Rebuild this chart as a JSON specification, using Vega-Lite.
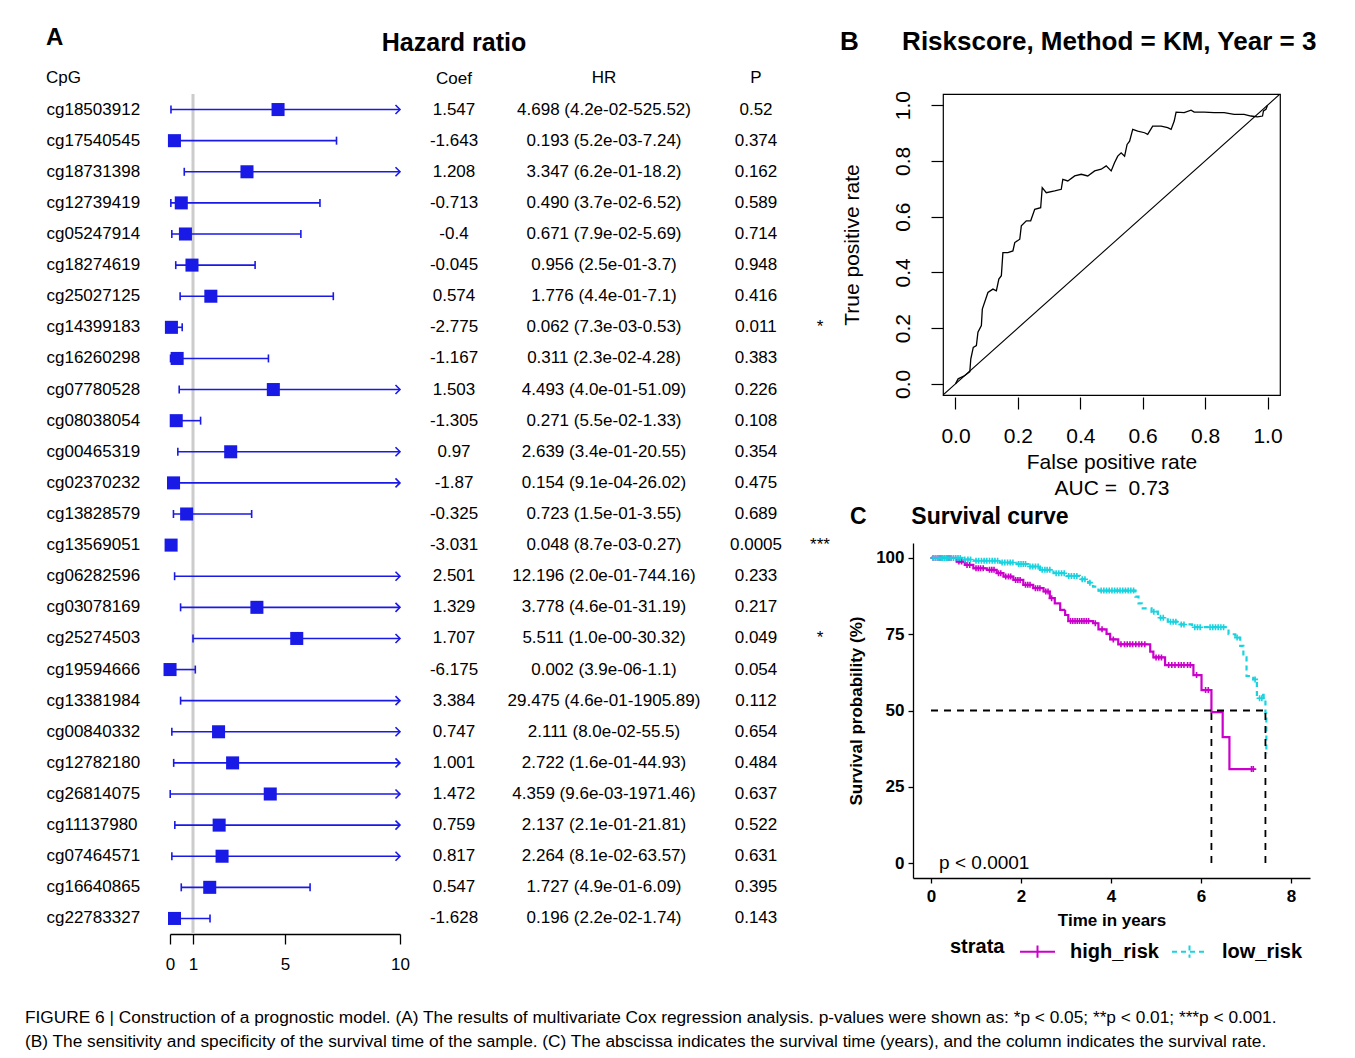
{
  "$schema": "https://vega.github.io/schema/vega-lite/v6.json",
  "background": "white",
  "padding": {"left": 25, "top": 25, "right": 0, "bottom": 0},
  "autosize": {"type": "pad"},
  "bounds": "flush",
  "spacing": 743,
  "title": {
    "text": ["FIGURE 6 | Construction of a prognostic model. (A) The results of multivariate Cox regression analysis. p-values were shown as: *p < 0.05; **p < 0.01; ***p < 0.001.", "(B) The sensitivity and specificity of the survival time of the sample. (C) The abscissa indicates the survival time (years), and the column indicates the survival rate."],
    "orient": "bottom", "anchor": "start", "frame": "bounds", "fontSize": 17.3, "fontWeight": "normal", "lineHeight": 24, "offset": 37, "dx": -21
  },
  "config": {
    "font": "Liberation Sans",
    "view": {"stroke": null},
    "axis": {"labelColor": "black", "titleColor": "black", "domainColor": "black", "tickColor": "black", "grid": false, "labelFont": "Liberation Sans", "titleFont": "Liberation Sans"},
    "title": {"color": "black", "subtitleColor": "black", "font": "Liberation Sans", "subtitleFont": "Liberation Sans"},
    "legend": {"labelColor": "black", "titleColor": "black", "labelFont": "Liberation Sans", "titleFont": "Liberation Sans"}
  },
  "datasets": {
    "forest": [
      {"cpg": "cg18503912", "coef": "1.547", "hr": 4.698, "lo": 0.042, "hi": 525.52, "hrtext": "4.698 (4.2e-02-525.52)", "p": "0.52", "sig": ""},
      {"cpg": "cg17540545", "coef": "-1.643", "hr": 0.193, "lo": 0.0052, "hi": 7.24, "hrtext": "0.193 (5.2e-03-7.24)", "p": "0.374", "sig": ""},
      {"cpg": "cg18731398", "coef": "1.208", "hr": 3.347, "lo": 0.62, "hi": 18.2, "hrtext": "3.347 (6.2e-01-18.2)", "p": "0.162", "sig": ""},
      {"cpg": "cg12739419", "coef": "-0.713", "hr": 0.49, "lo": 0.037, "hi": 6.52, "hrtext": "0.490 (3.7e-02-6.52)", "p": "0.589", "sig": ""},
      {"cpg": "cg05247914", "coef": "-0.4", "hr": 0.671, "lo": 0.079, "hi": 5.69, "hrtext": "0.671 (7.9e-02-5.69)", "p": "0.714", "sig": ""},
      {"cpg": "cg18274619", "coef": "-0.045", "hr": 0.956, "lo": 0.25, "hi": 3.7, "hrtext": "0.956 (2.5e-01-3.7)", "p": "0.948", "sig": ""},
      {"cpg": "cg25027125", "coef": "0.574", "hr": 1.776, "lo": 0.44, "hi": 7.1, "hrtext": "1.776 (4.4e-01-7.1)", "p": "0.416", "sig": ""},
      {"cpg": "cg14399183", "coef": "-2.775", "hr": 0.062, "lo": 0.0073, "hi": 0.53, "hrtext": "0.062 (7.3e-03-0.53)", "p": "0.011", "sig": "*"},
      {"cpg": "cg16260298", "coef": "-1.167", "hr": 0.311, "lo": 0.023, "hi": 4.28, "hrtext": "0.311 (2.3e-02-4.28)", "p": "0.383", "sig": ""},
      {"cpg": "cg07780528", "coef": "1.503", "hr": 4.493, "lo": 0.4, "hi": 51.09, "hrtext": "4.493 (4.0e-01-51.09)", "p": "0.226", "sig": ""},
      {"cpg": "cg08038054", "coef": "-1.305", "hr": 0.271, "lo": 0.055, "hi": 1.33, "hrtext": "0.271 (5.5e-02-1.33)", "p": "0.108", "sig": ""},
      {"cpg": "cg00465319", "coef": "0.97", "hr": 2.639, "lo": 0.34, "hi": 20.55, "hrtext": "2.639 (3.4e-01-20.55)", "p": "0.354", "sig": ""},
      {"cpg": "cg02370232", "coef": "-1.87", "hr": 0.154, "lo": 0.00091, "hi": 26.02, "hrtext": "0.154 (9.1e-04-26.02)", "p": "0.475", "sig": ""},
      {"cpg": "cg13828579", "coef": "-0.325", "hr": 0.723, "lo": 0.15, "hi": 3.55, "hrtext": "0.723 (1.5e-01-3.55)", "p": "0.689", "sig": ""},
      {"cpg": "cg13569051", "coef": "-3.031", "hr": 0.048, "lo": 0.0087, "hi": 0.27, "hrtext": "0.048 (8.7e-03-0.27)", "p": "0.0005", "sig": "***"},
      {"cpg": "cg06282596", "coef": "2.501", "hr": 12.196, "lo": 0.2, "hi": 744.16, "hrtext": "12.196 (2.0e-01-744.16)", "p": "0.233", "sig": ""},
      {"cpg": "cg03078169", "coef": "1.329", "hr": 3.778, "lo": 0.46, "hi": 31.19, "hrtext": "3.778 (4.6e-01-31.19)", "p": "0.217", "sig": ""},
      {"cpg": "cg25274503", "coef": "1.707", "hr": 5.511, "lo": 1.0, "hi": 30.32, "hrtext": "5.511 (1.0e-00-30.32)", "p": "0.049", "sig": "*"},
      {"cpg": "cg19594666", "coef": "-6.175", "hr": 0.002, "lo": 0.0000039, "hi": 1.1, "hrtext": "0.002 (3.9e-06-1.1)", "p": "0.054", "sig": ""},
      {"cpg": "cg13381984", "coef": "3.384", "hr": 29.475, "lo": 0.46, "hi": 1905.89, "hrtext": "29.475 (4.6e-01-1905.89)", "p": "0.112", "sig": ""},
      {"cpg": "cg00840332", "coef": "0.747", "hr": 2.111, "lo": 0.08, "hi": 55.5, "hrtext": "2.111 (8.0e-02-55.5)", "p": "0.654", "sig": ""},
      {"cpg": "cg12782180", "coef": "1.001", "hr": 2.722, "lo": 0.16, "hi": 44.93, "hrtext": "2.722 (1.6e-01-44.93)", "p": "0.484", "sig": ""},
      {"cpg": "cg26814075", "coef": "1.472", "hr": 4.359, "lo": 0.0096, "hi": 1971.46, "hrtext": "4.359 (9.6e-03-1971.46)", "p": "0.637", "sig": ""},
      {"cpg": "cg11137980", "coef": "0.759", "hr": 2.137, "lo": 0.21, "hi": 21.81, "hrtext": "2.137 (2.1e-01-21.81)", "p": "0.522", "sig": ""},
      {"cpg": "cg07464571", "coef": "0.817", "hr": 2.264, "lo": 0.081, "hi": 63.57, "hrtext": "2.264 (8.1e-02-63.57)", "p": "0.631", "sig": ""},
      {"cpg": "cg16640865", "coef": "0.547", "hr": 1.727, "lo": 0.49, "hi": 6.09, "hrtext": "1.727 (4.9e-01-6.09)", "p": "0.395", "sig": ""},
      {"cpg": "cg22783327", "coef": "-1.628", "hr": 0.196, "lo": 0.022, "hi": 1.74, "hrtext": "0.196 (2.2e-02-1.74)", "p": "0.143", "sig": ""}
    ],
    "roc": [
      {"i": 0, "fpr": 0, "tpr": 0}, {"i": 1, "fpr": 0.0085, "tpr": 0.018}, {"i": 2, "fpr": 0.03, "tpr": 0.03}, {"i": 3, "fpr": 0.046, "tpr": 0.044},
      {"i": 4, "fpr": 0.049, "tpr": 0.089}, {"i": 5, "fpr": 0.057, "tpr": 0.131}, {"i": 6, "fpr": 0.067, "tpr": 0.137}, {"i": 7, "fpr": 0.072, "tpr": 0.185},
      {"i": 8, "fpr": 0.083, "tpr": 0.209}, {"i": 9, "fpr": 0.086, "tpr": 0.268}, {"i": 10, "fpr": 0.104, "tpr": 0.328}, {"i": 11, "fpr": 0.12, "tpr": 0.34},
      {"i": 12, "fpr": 0.131, "tpr": 0.334}, {"i": 13, "fpr": 0.139, "tpr": 0.376}, {"i": 14, "fpr": 0.147, "tpr": 0.388}, {"i": 15, "fpr": 0.152, "tpr": 0.471},
      {"i": 16, "fpr": 0.168, "tpr": 0.471}, {"i": 17, "fpr": 0.184, "tpr": 0.477}, {"i": 18, "fpr": 0.19, "tpr": 0.507}, {"i": 19, "fpr": 0.206, "tpr": 0.519},
      {"i": 20, "fpr": 0.211, "tpr": 0.567}, {"i": 21, "fpr": 0.227, "tpr": 0.585}, {"i": 22, "fpr": 0.241, "tpr": 0.585}, {"i": 23, "fpr": 0.254, "tpr": 0.626},
      {"i": 24, "fpr": 0.273, "tpr": 0.632}, {"i": 25, "fpr": 0.278, "tpr": 0.704}, {"i": 26, "fpr": 0.291, "tpr": 0.686}, {"i": 27, "fpr": 0.318, "tpr": 0.692},
      {"i": 28, "fpr": 0.339, "tpr": 0.698}, {"i": 29, "fpr": 0.344, "tpr": 0.734}, {"i": 30, "fpr": 0.36, "tpr": 0.728}, {"i": 31, "fpr": 0.382, "tpr": 0.746},
      {"i": 32, "fpr": 0.403, "tpr": 0.752}, {"i": 33, "fpr": 0.424, "tpr": 0.746}, {"i": 34, "fpr": 0.446, "tpr": 0.764}, {"i": 35, "fpr": 0.467, "tpr": 0.77},
      {"i": 36, "fpr": 0.483, "tpr": 0.782}, {"i": 37, "fpr": 0.499, "tpr": 0.764}, {"i": 38, "fpr": 0.51, "tpr": 0.794}, {"i": 39, "fpr": 0.52, "tpr": 0.817},
      {"i": 40, "fpr": 0.531, "tpr": 0.829}, {"i": 41, "fpr": 0.542, "tpr": 0.817}, {"i": 42, "fpr": 0.55, "tpr": 0.859}, {"i": 43, "fpr": 0.558, "tpr": 0.871},
      {"i": 44, "fpr": 0.568, "tpr": 0.913}, {"i": 45, "fpr": 0.584, "tpr": 0.907}, {"i": 46, "fpr": 0.606, "tpr": 0.901}, {"i": 47, "fpr": 0.616, "tpr": 0.895},
      {"i": 48, "fpr": 0.632, "tpr": 0.925}, {"i": 49, "fpr": 0.659, "tpr": 0.925}, {"i": 50, "fpr": 0.68, "tpr": 0.919}, {"i": 51, "fpr": 0.691, "tpr": 0.913},
      {"i": 52, "fpr": 0.701, "tpr": 0.943}, {"i": 53, "fpr": 0.707, "tpr": 0.975}, {"i": 54, "fpr": 0.733, "tpr": 0.973}, {"i": 55, "fpr": 0.755, "tpr": 0.982},
      {"i": 56, "fpr": 0.765, "tpr": 0.975}, {"i": 57, "fpr": 0.797, "tpr": 0.975}, {"i": 58, "fpr": 0.829, "tpr": 0.973}, {"i": 59, "fpr": 0.861, "tpr": 0.973},
      {"i": 60, "fpr": 0.893, "tpr": 0.967}, {"i": 61, "fpr": 0.925, "tpr": 0.967}, {"i": 62, "fpr": 0.947, "tpr": 0.961}, {"i": 63, "fpr": 0.968, "tpr": 0.958},
      {"i": 64, "fpr": 0.984, "tpr": 0.961}, {"i": 65, "fpr": 0.987, "tpr": 0.979}, {"i": 66, "fpr": 0.995, "tpr": 0.985}, {"i": 67, "fpr": 1, "tpr": 1}
    ],
    "surv": [
      {"strata": "high_risk", "t": 0, "s": 100}, {"strata": "high_risk", "t": 0.57, "s": 98.8}, {"strata": "high_risk", "t": 0.75, "s": 97.7},
      {"strata": "high_risk", "t": 0.94, "s": 96.6}, {"strata": "high_risk", "t": 1.24, "s": 96.1}, {"strata": "high_risk", "t": 1.46, "s": 95.0},
      {"strata": "high_risk", "t": 1.61, "s": 93.9}, {"strata": "high_risk", "t": 1.83, "s": 92.8}, {"strata": "high_risk", "t": 2.05, "s": 91.2},
      {"strata": "high_risk", "t": 2.27, "s": 90.1}, {"strata": "high_risk", "t": 2.5, "s": 89.0}, {"strata": "high_risk", "t": 2.64, "s": 86.8},
      {"strata": "high_risk", "t": 2.75, "s": 85.1}, {"strata": "high_risk", "t": 2.87, "s": 83.0}, {"strata": "high_risk", "t": 2.98, "s": 81.3},
      {"strata": "high_risk", "t": 3.05, "s": 79.3}, {"strata": "high_risk", "t": 3.6, "s": 78.6}, {"strata": "high_risk", "t": 3.72, "s": 76.6},
      {"strata": "high_risk", "t": 3.9, "s": 75.1}, {"strata": "high_risk", "t": 3.98, "s": 73.3}, {"strata": "high_risk", "t": 4.16, "s": 71.7},
      {"strata": "high_risk", "t": 4.87, "s": 69.3}, {"strata": "high_risk", "t": 4.94, "s": 67.4}, {"strata": "high_risk", "t": 5.2, "s": 64.9},
      {"strata": "high_risk", "t": 5.83, "s": 61.6}, {"strata": "high_risk", "t": 6.01, "s": 56.7}, {"strata": "high_risk", "t": 6.23, "s": 49.5},
      {"strata": "high_risk", "t": 6.48, "s": 41.3}, {"strata": "high_risk", "t": 6.63, "s": 30.8}, {"strata": "high_risk", "t": 7.18, "s": 30.8},
      {"strata": "low_risk", "t": 0, "s": 100}, {"strata": "low_risk", "t": 0.7, "s": 99.5}, {"strata": "low_risk", "t": 0.94, "s": 99.1},
      {"strata": "low_risk", "t": 1.53, "s": 98.5}, {"strata": "low_risk", "t": 1.9, "s": 98.0}, {"strata": "low_risk", "t": 2.16, "s": 97.2},
      {"strata": "low_risk", "t": 2.42, "s": 96.1}, {"strata": "low_risk", "t": 2.72, "s": 95.0}, {"strata": "low_risk", "t": 3.01, "s": 94.1},
      {"strata": "low_risk", "t": 3.31, "s": 93.0}, {"strata": "low_risk", "t": 3.49, "s": 91.9}, {"strata": "low_risk", "t": 3.6, "s": 90.6},
      {"strata": "low_risk", "t": 3.72, "s": 89.3}, {"strata": "low_risk", "t": 4.54, "s": 87.3}, {"strata": "low_risk", "t": 4.61, "s": 85.1},
      {"strata": "low_risk", "t": 4.68, "s": 83.5}, {"strata": "low_risk", "t": 4.9, "s": 82.4}, {"strata": "low_risk", "t": 5.04, "s": 80.4},
      {"strata": "low_risk", "t": 5.26, "s": 79.1}, {"strata": "low_risk", "t": 5.5, "s": 78.2}, {"strata": "low_risk", "t": 5.8, "s": 77.3},
      {"strata": "low_risk", "t": 6.61, "s": 75.0}, {"strata": "low_risk", "t": 6.76, "s": 73.9}, {"strata": "low_risk", "t": 6.87, "s": 71.2},
      {"strata": "low_risk", "t": 6.94, "s": 67.4}, {"strata": "low_risk", "t": 7.01, "s": 61.3}, {"strata": "low_risk", "t": 7.16, "s": 60.2},
      {"strata": "low_risk", "t": 7.24, "s": 55.1}, {"strata": "low_risk", "t": 7.39, "s": 54.0}, {"strata": "low_risk", "t": 7.43, "s": 49.1},
      {"strata": "low_risk", "t": 7.45, "s": 36.0}, {"strata": "low_risk", "t": 7.47, "s": 36.0}
    ],
    "censor": [
      {"strata": "high_risk", "t": 0.05, "s": 100}, {"strata": "high_risk", "t": 0.1, "s": 100}, {"strata": "high_risk", "t": 0.15, "s": 100},
      {"strata": "high_risk", "t": 0.2, "s": 100}, {"strata": "high_risk", "t": 0.25, "s": 100}, {"strata": "high_risk", "t": 0.3, "s": 100},
      {"strata": "high_risk", "t": 0.35, "s": 100}, {"strata": "high_risk", "t": 0.4, "s": 100}, {"strata": "high_risk", "t": 0.45, "s": 100},
      {"strata": "high_risk", "t": 0.62, "s": 98.8}, {"strata": "high_risk", "t": 0.68, "s": 98.8}, {"strata": "high_risk", "t": 0.8, "s": 97.7},
      {"strata": "high_risk", "t": 0.86, "s": 97.7}, {"strata": "high_risk", "t": 1.0, "s": 96.6}, {"strata": "high_risk", "t": 1.05, "s": 96.6},
      {"strata": "high_risk", "t": 1.1, "s": 96.6}, {"strata": "high_risk", "t": 1.16, "s": 96.6}, {"strata": "high_risk", "t": 1.3, "s": 96.1},
      {"strata": "high_risk", "t": 1.35, "s": 96.1}, {"strata": "high_risk", "t": 1.4, "s": 96.1}, {"strata": "high_risk", "t": 1.5, "s": 95.0},
      {"strata": "high_risk", "t": 1.55, "s": 95.0}, {"strata": "high_risk", "t": 1.66, "s": 93.9}, {"strata": "high_risk", "t": 1.72, "s": 93.9},
      {"strata": "high_risk", "t": 1.77, "s": 93.9}, {"strata": "high_risk", "t": 1.88, "s": 92.8}, {"strata": "high_risk", "t": 1.93, "s": 92.8},
      {"strata": "high_risk", "t": 1.98, "s": 92.8}, {"strata": "high_risk", "t": 2.1, "s": 91.2}, {"strata": "high_risk", "t": 2.15, "s": 91.2},
      {"strata": "high_risk", "t": 2.2, "s": 91.2}, {"strata": "high_risk", "t": 2.32, "s": 90.1}, {"strata": "high_risk", "t": 2.37, "s": 90.1},
      {"strata": "high_risk", "t": 2.42, "s": 90.1}, {"strata": "high_risk", "t": 2.55, "s": 89.0}, {"strata": "high_risk", "t": 2.6, "s": 89.0},
      {"strata": "high_risk", "t": 2.68, "s": 86.8}, {"strata": "high_risk", "t": 3.1, "s": 79.3}, {"strata": "high_risk", "t": 3.15, "s": 79.3},
      {"strata": "high_risk", "t": 3.2, "s": 79.3}, {"strata": "high_risk", "t": 3.25, "s": 79.3}, {"strata": "high_risk", "t": 3.3, "s": 79.3},
      {"strata": "high_risk", "t": 3.35, "s": 79.3}, {"strata": "high_risk", "t": 3.4, "s": 79.3}, {"strata": "high_risk", "t": 3.45, "s": 79.3},
      {"strata": "high_risk", "t": 3.5, "s": 79.3}, {"strata": "high_risk", "t": 3.65, "s": 78.6}, {"strata": "high_risk", "t": 3.8, "s": 76.6},
      {"strata": "high_risk", "t": 4.05, "s": 73.3}, {"strata": "high_risk", "t": 4.22, "s": 71.7}, {"strata": "high_risk", "t": 4.3, "s": 71.7},
      {"strata": "high_risk", "t": 4.36, "s": 71.7}, {"strata": "high_risk", "t": 4.42, "s": 71.7}, {"strata": "high_risk", "t": 4.48, "s": 71.7},
      {"strata": "high_risk", "t": 4.55, "s": 71.7}, {"strata": "high_risk", "t": 4.62, "s": 71.7}, {"strata": "high_risk", "t": 4.68, "s": 71.7},
      {"strata": "high_risk", "t": 4.75, "s": 71.7}, {"strata": "high_risk", "t": 5.0, "s": 67.4}, {"strata": "high_risk", "t": 5.06, "s": 67.4},
      {"strata": "high_risk", "t": 5.12, "s": 67.4}, {"strata": "high_risk", "t": 5.28, "s": 64.9}, {"strata": "high_risk", "t": 5.35, "s": 64.9},
      {"strata": "high_risk", "t": 5.42, "s": 64.9}, {"strata": "high_risk", "t": 5.5, "s": 64.9}, {"strata": "high_risk", "t": 5.56, "s": 64.9},
      {"strata": "high_risk", "t": 5.62, "s": 64.9}, {"strata": "high_risk", "t": 5.7, "s": 64.9}, {"strata": "high_risk", "t": 5.76, "s": 64.9},
      {"strata": "high_risk", "t": 5.9, "s": 61.6}, {"strata": "high_risk", "t": 6.1, "s": 56.7}, {"strata": "high_risk", "t": 6.16, "s": 56.7},
      {"strata": "high_risk", "t": 7.12, "s": 30.8}, {"strata": "high_risk", "t": 7.16, "s": 30.8},
      {"strata": "low_risk", "t": 0.05, "s": 100}, {"strata": "low_risk", "t": 0.1, "s": 100}, {"strata": "low_risk", "t": 0.15, "s": 100},
      {"strata": "low_risk", "t": 0.2, "s": 100}, {"strata": "low_risk", "t": 0.25, "s": 100}, {"strata": "low_risk", "t": 0.3, "s": 100},
      {"strata": "low_risk", "t": 0.35, "s": 100}, {"strata": "low_risk", "t": 0.4, "s": 100}, {"strata": "low_risk", "t": 0.45, "s": 100},
      {"strata": "low_risk", "t": 0.5, "s": 100}, {"strata": "low_risk", "t": 0.55, "s": 100}, {"strata": "low_risk", "t": 0.6, "s": 100},
      {"strata": "low_risk", "t": 0.65, "s": 100}, {"strata": "low_risk", "t": 0.75, "s": 99.5}, {"strata": "low_risk", "t": 0.82, "s": 99.5},
      {"strata": "low_risk", "t": 0.88, "s": 99.5}, {"strata": "low_risk", "t": 1.0, "s": 99.1}, {"strata": "low_risk", "t": 1.06, "s": 99.1},
      {"strata": "low_risk", "t": 1.12, "s": 99.1}, {"strata": "low_risk", "t": 1.18, "s": 99.1}, {"strata": "low_risk", "t": 1.24, "s": 99.1},
      {"strata": "low_risk", "t": 1.3, "s": 99.1}, {"strata": "low_risk", "t": 1.36, "s": 99.1}, {"strata": "low_risk", "t": 1.42, "s": 99.1},
      {"strata": "low_risk", "t": 1.48, "s": 99.1}, {"strata": "low_risk", "t": 1.58, "s": 98.5}, {"strata": "low_risk", "t": 1.64, "s": 98.5},
      {"strata": "low_risk", "t": 1.7, "s": 98.5}, {"strata": "low_risk", "t": 1.76, "s": 98.5}, {"strata": "low_risk", "t": 1.82, "s": 98.5},
      {"strata": "low_risk", "t": 1.95, "s": 98.0}, {"strata": "low_risk", "t": 2.0, "s": 98.0}, {"strata": "low_risk", "t": 2.05, "s": 98.0},
      {"strata": "low_risk", "t": 2.1, "s": 98.0}, {"strata": "low_risk", "t": 2.2, "s": 97.2}, {"strata": "low_risk", "t": 2.26, "s": 97.2},
      {"strata": "low_risk", "t": 2.32, "s": 97.2}, {"strata": "low_risk", "t": 2.38, "s": 97.2}, {"strata": "low_risk", "t": 2.47, "s": 96.1},
      {"strata": "low_risk", "t": 2.53, "s": 96.1}, {"strata": "low_risk", "t": 2.58, "s": 96.1}, {"strata": "low_risk", "t": 2.64, "s": 96.1},
      {"strata": "low_risk", "t": 2.78, "s": 95.0}, {"strata": "low_risk", "t": 2.84, "s": 95.0}, {"strata": "low_risk", "t": 2.9, "s": 95.0},
      {"strata": "low_risk", "t": 2.96, "s": 95.0}, {"strata": "low_risk", "t": 3.06, "s": 94.1}, {"strata": "low_risk", "t": 3.12, "s": 94.1},
      {"strata": "low_risk", "t": 3.18, "s": 94.1}, {"strata": "low_risk", "t": 3.24, "s": 94.1}, {"strata": "low_risk", "t": 3.36, "s": 93.0},
      {"strata": "low_risk", "t": 3.42, "s": 93.0}, {"strata": "low_risk", "t": 3.53, "s": 91.9}, {"strata": "low_risk", "t": 3.78, "s": 89.3},
      {"strata": "low_risk", "t": 3.84, "s": 89.3}, {"strata": "low_risk", "t": 3.9, "s": 89.3}, {"strata": "low_risk", "t": 3.96, "s": 89.3},
      {"strata": "low_risk", "t": 4.02, "s": 89.3}, {"strata": "low_risk", "t": 4.08, "s": 89.3}, {"strata": "low_risk", "t": 4.14, "s": 89.3},
      {"strata": "low_risk", "t": 4.2, "s": 89.3}, {"strata": "low_risk", "t": 4.26, "s": 89.3}, {"strata": "low_risk", "t": 4.32, "s": 89.3},
      {"strata": "low_risk", "t": 4.38, "s": 89.3}, {"strata": "low_risk", "t": 4.44, "s": 89.3}, {"strata": "low_risk", "t": 4.5, "s": 89.3},
      {"strata": "low_risk", "t": 4.95, "s": 82.4}, {"strata": "low_risk", "t": 5.1, "s": 80.4}, {"strata": "low_risk", "t": 5.16, "s": 80.4},
      {"strata": "low_risk", "t": 5.32, "s": 79.1}, {"strata": "low_risk", "t": 5.38, "s": 79.1}, {"strata": "low_risk", "t": 5.44, "s": 79.1},
      {"strata": "low_risk", "t": 5.56, "s": 78.2}, {"strata": "low_risk", "t": 5.62, "s": 78.2}, {"strata": "low_risk", "t": 5.86, "s": 77.3},
      {"strata": "low_risk", "t": 5.92, "s": 77.3}, {"strata": "low_risk", "t": 5.98, "s": 77.3}, {"strata": "low_risk", "t": 6.2, "s": 77.3},
      {"strata": "low_risk", "t": 6.26, "s": 77.3}, {"strata": "low_risk", "t": 6.32, "s": 77.3}, {"strata": "low_risk", "t": 6.38, "s": 77.3},
      {"strata": "low_risk", "t": 6.44, "s": 77.3}, {"strata": "low_risk", "t": 6.5, "s": 77.3}, {"strata": "low_risk", "t": 6.8, "s": 73.9},
      {"strata": "low_risk", "t": 7.2, "s": 60.2}, {"strata": "low_risk", "t": 7.3, "s": 54.0}, {"strata": "low_risk", "t": 7.35, "s": 54.0}
    ]
  },
  "hconcat": [
    {
      "spacing": 0,
      "bounds": "flush",
      "hconcat": [
        {
          "width": 230,
          "height": 840,
          "title": {"text": "A", "subtitle": "CpG", "anchor": "start", "frame": "bounds", "fontSize": 24, "fontWeight": "bold", "subtitleFontSize": 17, "subtitleFontWeight": "normal", "subtitlePadding": 20, "offset": 7},
          "layer": [
            {
              "data": {"values": [{}]},
              "mark": {"type": "rule", "color": "#cccccc", "strokeWidth": 3},
              "encoding": {"x": {"datum": 1, "type": "quantitative", "scale": {"domain": [0, 10], "nice": false, "zero": false, "clamp": true}}}
            },
            {
              "data": {"name": "forest"},
              "mark": {"type": "rule", "color": "#1a1ae6", "strokeWidth": 1.6},
              "encoding": {
                "y": {"field": "cpg", "type": "nominal", "sort": null, "scale": {"paddingInner": 0, "paddingOuter": 0}, "axis": {"title": null, "domain": false, "ticks": false, "tickSize": 0, "labelAlign": "left", "labelPadding": 124, "labelFontSize": 17}},
                "x": {"field": "lo", "type": "quantitative", "scale": {"domain": [0, 10], "nice": false, "zero": false, "clamp": true},
                      "axis": {"values": [0, 1, 5, 10], "title": null, "labelFontSize": 17, "tickSize": 10, "tickWidth": 1.3, "domainWidth": 1.3, "labelPadding": 12, "labelFlush": false, "labelOverlap": false}},
                "x2": {"field": "hi"}
              }
            },
            {
              "data": {"name": "forest"},
              "mark": {"type": "point", "shape": "M0,-1L0,1", "size": 64, "filled": false, "color": "#1a1ae6", "strokeWidth": 1.6, "opacity": 1},
              "encoding": {
                "y": {"field": "cpg", "type": "nominal", "sort": null, "scale": {"paddingInner": 0, "paddingOuter": 0}, "axis": {"title": null, "domain": false, "ticks": false, "tickSize": 0, "labelAlign": "left", "labelPadding": 124, "labelFontSize": 17}},
                "x": {"field": "lo", "type": "quantitative"}
              }
            },
            {
              "data": {"name": "forest"},
              "transform": [{"filter": "datum.hi <= 10"}],
              "mark": {"type": "point", "shape": "M0,-1L0,1", "size": 64, "filled": false, "color": "#1a1ae6", "strokeWidth": 1.6, "opacity": 1},
              "encoding": {
                "y": {"field": "cpg", "type": "nominal", "sort": null, "scale": {"paddingInner": 0, "paddingOuter": 0}, "axis": {"title": null, "domain": false, "ticks": false, "tickSize": 0, "labelAlign": "left", "labelPadding": 124, "labelFontSize": 17}},
                "x": {"field": "hi", "type": "quantitative"}
              }
            },
            {
              "data": {"name": "forest"},
              "transform": [{"filter": "datum.hi > 10"}],
              "mark": {"type": "point", "shape": "M-1,-1L0,0L-1,1", "size": 81, "filled": false, "color": "#1a1ae6", "strokeWidth": 1.6, "opacity": 1},
              "encoding": {
                "y": {"field": "cpg", "type": "nominal", "sort": null, "scale": {"paddingInner": 0, "paddingOuter": 0}, "axis": {"title": null, "domain": false, "ticks": false, "tickSize": 0, "labelAlign": "left", "labelPadding": 124, "labelFontSize": 17}},
                "x": {"field": "hi", "type": "quantitative"}
              }
            },
            {
              "data": {"name": "forest"},
              "transform": [{"filter": "datum.hr <= 10"}],
              "mark": {"type": "square", "size": 170, "color": "#1a1ae6", "opacity": 1},
              "encoding": {
                "y": {"field": "cpg", "type": "nominal", "sort": null, "scale": {"paddingInner": 0, "paddingOuter": 0}, "axis": {"title": null, "domain": false, "ticks": false, "tickSize": 0, "labelAlign": "left", "labelPadding": 124, "labelFontSize": 17}},
                "x": {"field": "hr", "type": "quantitative"}
              }
            }
          ]
        },
        {
          "width": 108,
          "height": 840,
          "data": {"name": "forest"},
          "title": {"text": "Hazard ratio", "subtitle": "Coef", "anchor": "middle", "frame": "group", "fontSize": 25, "fontWeight": "bold", "subtitleFontSize": 17, "subtitleFontWeight": "normal", "subtitlePadding": 15, "offset": 7},
          "mark": {"type": "text", "fontSize": 17, "color": "black"},
          "encoding": {
            "y": {"field": "cpg", "type": "nominal", "sort": null, "scale": {"paddingInner": 0, "paddingOuter": 0}, "axis": null},
            "text": {"field": "coef"}
          }
        },
        {
          "width": 192,
          "height": 840,
          "data": {"name": "forest"},
          "title": {"text": "HR", "anchor": "middle", "frame": "group", "fontSize": 17, "fontWeight": "normal", "offset": 7},
          "mark": {"type": "text", "fontSize": 17, "color": "black"},
          "encoding": {
            "y": {"field": "cpg", "type": "nominal", "sort": null, "scale": {"paddingInner": 0, "paddingOuter": 0}, "axis": null},
            "text": {"field": "hrtext"}
          }
        },
        {
          "width": 112,
          "height": 840,
          "data": {"name": "forest"},
          "title": {"text": "P", "anchor": "middle", "frame": "group", "fontSize": 17, "fontWeight": "normal", "offset": 7},
          "mark": {"type": "text", "fontSize": 17, "color": "black"},
          "encoding": {
            "y": {"field": "cpg", "type": "nominal", "sort": null, "scale": {"paddingInner": 0, "paddingOuter": 0}, "axis": null},
            "text": {"field": "p"}
          }
        },
        {
          "width": 16,
          "height": 840,
          "data": {"name": "forest"},
          "mark": {"type": "text", "fontSize": 17, "color": "black"},
          "encoding": {
            "y": {"field": "cpg", "type": "nominal", "sort": null, "scale": {"paddingInner": 0, "paddingOuter": 0}, "axis": null},
            "text": {"field": "sig"}
          }
        }
      ]
    },
    {
      "spacing": 148,
      "bounds": "flush",
      "center": true,
      "vconcat": [
        {
          "width": 337,
          "height": 301,
          "view": {"stroke": "black", "strokeWidth": 1.2},
          "title": {"text": "B\u00a0\u00a0\u00a0\u00a0\u00a0\u00a0Riskscore, Method = KM, Year = 3", "anchor": "start", "frame": "group", "dx": -103, "fontSize": 26, "fontWeight": "bold", "offset": 36},
          "layer": [
            {
              "data": {"name": "roc"},
              "mark": {"type": "line", "color": "black", "strokeWidth": 1.3},
              "encoding": {
                "x": {"field": "fpr", "type": "quantitative", "scale": {"domain": [-0.04, 1.04], "nice": false, "zero": false},
                      "axis": {"values": [0, 0.2, 0.4, 0.6, 0.8, 1], "format": ".1f", "domain": false, "tickSize": 12, "tickWidth": 1.2, "offset": 2, "labelFontSize": 21, "labelPadding": 16, "labelFlush": false, "labelOverlap": false,
                               "title": ["False positive rate", "AUC =\u00a0 0.73"], "titleFontSize": 21, "titleFontWeight": "normal", "titlePadding": 5, "titleLineHeight": 26}},
                "y": {"field": "tpr", "type": "quantitative", "scale": {"domain": [-0.04, 1.04], "nice": false, "zero": false},
                      "axis": {"values": [0, 0.2, 0.4, 0.6, 0.8, 1], "format": ".1f", "domain": false, "tickSize": 12, "tickWidth": 1.2, "labelFontSize": 21, "labelAngle": 270, "labelAlign": "center", "labelBaseline": "bottom", "labelPadding": 18, "labelFlush": false, "labelOverlap": false,
                               "title": "True positive rate", "titleFontSize": 21, "titleFontWeight": "normal", "titlePadding": 30}},
                "order": {"field": "i", "type": "quantitative"}
              }
            },
            {
              "data": {"values": [{"fpr": -0.04, "tpr": -0.04}, {"fpr": 1.04, "tpr": 1.04}]},
              "mark": {"type": "line", "color": "black", "strokeWidth": 1.1, "clip": true},
              "encoding": {
                "x": {"field": "fpr", "type": "quantitative"},
                "y": {"field": "tpr", "type": "quantitative"}
              }
            }
          ]
        },
        {
          "width": 397,
          "height": 335,
          "title": {"text": "C\u00a0\u00a0\u00a0\u00a0\u00a0\u00a0\u00a0Survival curve", "anchor": "start", "frame": "group", "dx": -63, "fontSize": 23, "fontWeight": "bold", "offset": 14},
          "layer": [
            {
              "data": {"name": "surv"},
              "mark": {"type": "line", "interpolate": "step-after", "strokeWidth": 2.2},
              "encoding": {
                "x": {"field": "t", "type": "quantitative", "scale": {"domain": [-0.4, 8.42], "nice": false, "zero": false},
                      "axis": {"values": [0, 2, 4, 6, 8], "title": "Time in years", "titleFontSize": 17, "titleFontWeight": "bold", "labelFontSize": 17, "labelFontWeight": "bold", "tickSize": 5, "tickWidth": 1.3, "domainWidth": 1.3, "labelPadding": 5, "titlePadding": 8, "labelFlush": false}},
                "y": {"field": "s", "type": "quantitative", "scale": {"domain": [-4.9, 104.9], "nice": false, "zero": false},
                      "axis": {"values": [0, 25, 50, 75, 100], "title": "Survival probability (%)", "titleFontSize": 17, "titleFontWeight": "bold", "labelFontSize": 17, "labelFontWeight": "bold", "tickSize": 5, "tickWidth": 1.3, "domainWidth": 1.3, "labelPadding": 4, "titlePadding": 10, "labelFlush": false}},
                "color": {"field": "strata", "type": "nominal", "scale": {"domain": ["high_risk", "low_risk"], "range": ["#cc00cc", "#19d3df"]},
                          "legend": {"orient": "none", "legendX": 780, "legendY": 839, "direction": "horizontal", "title": "strata", "titleOrient": "left", "titleAnchor": "middle", "titleBaseline": "middle", "titleFontSize": 20, "titleFontWeight": "bold", "labelFontSize": 20, "labelFontWeight": "bold", "symbolType": "M-1,0L1,0M0,-0.35L0,0.35", "symbolSize": 1225, "symbolStrokeWidth": 2, "labelOffset": 14, "columnPadding": 9, "titlePadding": 14}},
                "strokeDash": {"field": "strata", "type": "nominal", "scale": {"domain": ["high_risk", "low_risk"], "range": [[1, 0], [5, 4]]},
                          "legend": {"orient": "none", "legendX": 780, "legendY": 839, "direction": "horizontal", "title": "strata", "titleOrient": "left", "titleAnchor": "middle", "titleBaseline": "middle", "titleFontSize": 20, "titleFontWeight": "bold", "labelFontSize": 20, "labelFontWeight": "bold", "symbolType": "M-1,0L1,0M0,-0.35L0,0.35", "symbolSize": 1225, "symbolStrokeWidth": 2, "labelOffset": 14, "columnPadding": 9, "titlePadding": 14}}
              }
            },
            {
              "data": {"name": "censor"},
              "mark": {"type": "point", "shape": "M-1,0L1,0M0,-1L0,1", "size": 36, "filled": false, "strokeWidth": 1.6, "opacity": 1},
              "encoding": {
                "x": {"field": "t", "type": "quantitative"},
                "y": {"field": "s", "type": "quantitative"},
                "color": {"field": "strata", "type": "nominal", "legend": null}
              }
            },
            {
              "data": {"values": [{"t": 0, "t2": 7.43, "s": 50, "s2": 50}, {"t": 6.23, "t2": 6.23, "s": 0, "s2": 50}, {"t": 7.43, "t2": 7.43, "s": 0, "s2": 50}]},
              "mark": {"type": "rule", "color": "black", "strokeWidth": 1.8, "strokeDash": [7, 6]},
              "encoding": {
                "x": {"field": "t", "type": "quantitative"},
                "x2": {"field": "t2"},
                "y": {"field": "s", "type": "quantitative"},
                "y2": {"field": "s2"}
              }
            },
            {
              "data": {"values": [{"t": 0.18, "s": 0, "label": "p < 0.0001"}]},
              "mark": {"type": "text", "align": "left", "baseline": "middle", "fontSize": 19, "color": "black"},
              "encoding": {
                "x": {"field": "t", "type": "quantitative"},
                "y": {"field": "s", "type": "quantitative"},
                "text": {"field": "label"}
              }
            }
          ]
        }
      ]
    }
  ]
}
